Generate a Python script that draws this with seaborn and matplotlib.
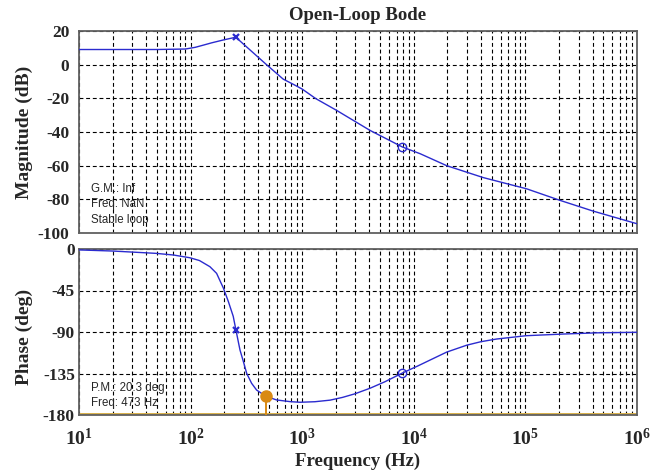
import numpy as np
import pandas as pd
import matplotlib
matplotlib.use("Agg")
import matplotlib.pyplot as plt
import seaborn as sns

# ---- data ----
mag_freq = [10, 50, 90, 110, 130, 155, 200, 254, 479, 676, 850, 1000, 1326, 2027, 4040,
            7900, 11400, 19700, 42000, 102000, 204000, 405000, 1000000]
mag_db = [9.0, 9.0, 9.3, 10.3, 11.6, 13.0, 14.8, 16.3, 0.0, -8.6, -12.0, -14.5, -20.2, -27.1,
          -39.0, -48.9, -52.9, -60.0, -67.1, -73.7, -80.6, -87.0, -94.5]

ph_freq = [10, 20, 48.6, 70, 98.6, 120, 149, 171, 197, 218, 241, 254, 277, 297, 318, 352,
           390, 473, 590, 778, 955, 1300, 1775, 2300, 2970, 4050, 5500, 7900, 11000, 14000,
           19700, 29800, 40000, 55300, 102000, 220000, 437000, 1000000]
ph_deg = [-1.0, -2.2, -4.7, -6.5, -9.5, -12.5, -19.2, -26.4, -42.6, -57.0, -73.0, -87.0,
          -109.5, -122.0, -134.8, -145.6, -152.9, -159.7, -163.7, -165.5, -166.2, -165.6,
          -163.9, -160.9, -157.0, -151.0, -144.0, -134.5, -126.5, -120.4, -111.8, -104.3,
          -100.5, -97.6, -94.0, -92.2, -90.9, -90.3]

peak_freq = [254]
peak_db = [16.3]
peak_ph = [-88.0]
circ_freq = [7900]
circ_db = [-48.9]
circ_ph = [-134.5]
pm_freq = [473]
pm_ph = [-159.7]

mag_ticks = [20, 0, -20, -40, -60, -80, -100]
ph_ticks = [0, -45, -90, -135, -180]
x_ticks = [1e1, 1e2, 1e3, 1e4, 1e5, 1e6]
x_ticklabels = [r'$\mathbf{10^{1}}$', r'$\mathbf{10^{2}}$', r'$\mathbf{10^{3}}$',
                r'$\mathbf{10^{4}}$', r'$\mathbf{10^{5}}$', r'$\mathbf{10^{6}}$']

mag_df = pd.DataFrame({"f": mag_freq, "v": mag_db})
ph_df = pd.DataFrame({"f": ph_freq, "v": ph_deg})

sns.set_style("white")
plt.rcParams['font.family'] = ['Liberation Serif', 'DejaVu Serif']
plt.rcParams['mathtext.fontset'] = 'custom'
plt.rcParams['mathtext.bf'] = 'Liberation Serif:bold'
plt.rcParams['mathtext.rm'] = 'Liberation Serif:bold'
plt.rcParams['axes.unicode_minus'] = False

W, H = 663, 470
fig = plt.figure(figsize=(W / 100, H / 100), dpi=100)
fig.patch.set_facecolor('white')

def frac_box(x0, y0, x1, y1):
    return [x0 / W, 1 - y1 / H, (x1 - x0) / W, (y1 - y0) / H]

ax1 = fig.add_axes(frac_box(79, 31, 637, 233))
ax2 = fig.add_axes(frac_box(79, 249, 637, 415))

blue = '#2b2bcf'
orange = '#d98a14'
dash = (0, (3.5, 2.5))

for ax in (ax1, ax2):
    ax.set_xscale('log')
    ax.set_xlim(10, 1e6)
    ax.grid(True, which='both', axis='x', color='black', linestyle=dash, linewidth=0.8)
    ax.grid(True, which='major', axis='y', color='black', linestyle=dash, linewidth=0.8)
    ax.set_axisbelow(True)
    ax.tick_params(which='both', length=0)
    for s in ax.spines.values():
        s.set_color('#606060')
        s.set_linewidth(1.3)
    ax.set_facecolor('white')

# magnitude
sns.lineplot(data=mag_df, x="f", y="v", ax=ax1, color=blue, linewidth=1.0,
             estimator=None, sort=False, zorder=3)
ax1.plot(peak_freq, peak_db, marker='x', color=blue, markersize=5, mew=1.6, ls='none', zorder=4)
ax1.plot(circ_freq, circ_db, marker='o', mfc='none', mec=blue, markersize=6, mew=1.0, ls='none', zorder=4)
ax1.set_ylim(-100, 20)
ax1.set_yticks(mag_ticks)
ax1.set_xticks(x_ticks)
ax1.set_xticklabels([])
ax1.set_xlabel('')
ax1.set_ylabel('Magnitude (dB)', fontsize=14, fontweight='bold')
ax1.yaxis.set_label_coords((33 - 79) / 558, 0.5)
ax1.set_title('Open-Loop Bode', fontsize=13.5, fontweight='bold', pad=8)
for lab in ax1.get_yticklabels():
    lab.set_fontsize(12.5)
    lab.set_fontweight('bold')
ax1.tick_params(axis='y', pad=7)

txt_kw = dict(fontsize=8.3, family=['Liberation Sans', 'DejaVu Sans'], transform=ax1.transAxes,
              va='center', ha='left')
ax1.text((91 - 79) / 558, 1 - (189 - 31) / 202, 'G.M.: Inf', **txt_kw)
ax1.text((91 - 79) / 558, 1 - (204 - 31) / 202, 'Freq: NaN', **txt_kw)
ax1.text((91 - 79) / 558, 1 - (220 - 31) / 202, 'Stable loop', **txt_kw)

# phase
ax2.axhline(-179.3, color='#d8b04a', linewidth=1.4, zorder=1.5)
ax2.vlines(pm_freq, -180, pm_ph, color=orange, linewidth=1.4, zorder=3)
sns.lineplot(data=ph_df, x="f", y="v", ax=ax2, color=blue, linewidth=1.0,
             estimator=None, sort=False, zorder=3)
ax2.plot(peak_freq, peak_ph, marker='x', color=blue, markersize=5, mew=1.6, ls='none', zorder=4)
ax2.plot(circ_freq, circ_ph, marker='o', mfc='none', mec=blue, markersize=6, mew=1.0, ls='none', zorder=4)
ax2.plot(pm_freq, pm_ph, marker='o', color=orange, markersize=8, ls='none', zorder=5)
ax2.set_ylim(-180, 0)
ax2.set_yticks(ph_ticks)
ax2.set_xticks(x_ticks)
ax2.set_xticklabels(x_ticklabels, fontsize=14)
ax2.set_ylabel('Phase (deg)', fontsize=14, fontweight='bold')
ax2.yaxis.set_label_coords((33 - 79) / 558, 0.47)
ax2.set_xlabel('Frequency (Hz)', fontsize=13.5, fontweight='bold', labelpad=3)
for lab in ax2.get_yticklabels():
    lab.set_fontsize(12.5)
    lab.set_fontweight('bold')
ax2.tick_params(axis='y', pad=3)
ax2.tick_params(axis='x', pad=9)

txt_kw2 = dict(txt_kw)
txt_kw2['transform'] = ax2.transAxes
ax2.text((91 - 79) / 558, 1 - (388 - 249) / 166, 'P.M.: 20.3 deg', **txt_kw2)
ax2.text((91 - 79) / 558, 1 - (403 - 249) / 166, 'Freq: 473 Hz', **txt_kw2)

fig.savefig('out.png', dpi=100, facecolor='white')
